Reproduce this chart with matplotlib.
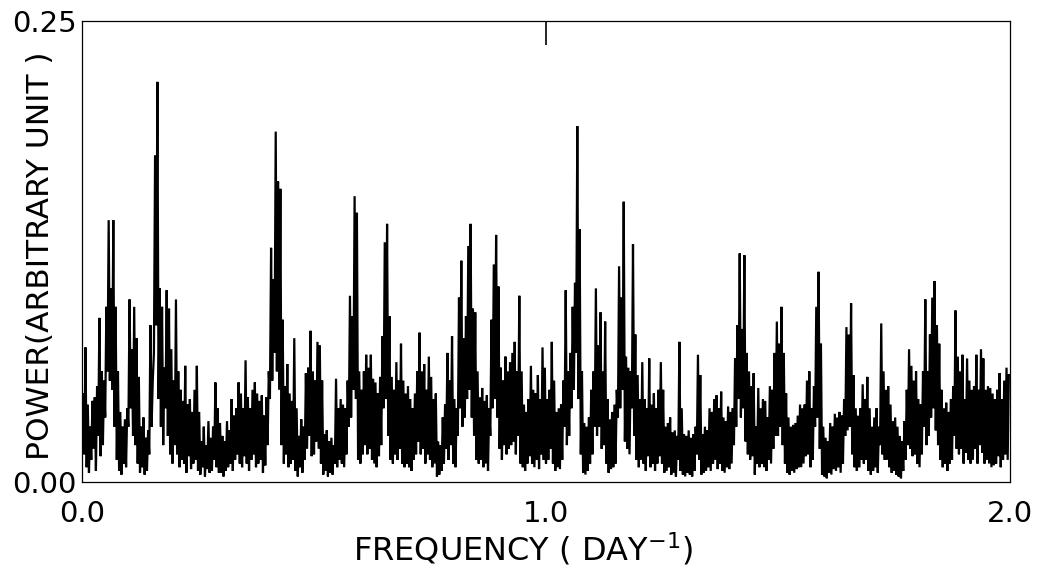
import numpy as np
import matplotlib
matplotlib.use("Agg")
import matplotlib.pyplot as plt

# Periodogram: local maxima and minima, in units of 0.001,
# sampled every 0.005 day^-1 (minima at the bin start, maxima at the bin middle).
peak_power_milli = [
    48, 73, 42, 30, 44, 46, 52, 89, 60, 55,
    95, 142, 105, 142, 95, 60, 38, 30, 34, 40,
    99, 72, 95, 78, 57, 30, 35, 24, 28, 85,
    55, 177, 217, 105, 95, 62, 104, 94, 72, 55,
    99, 60, 50, 44, 63, 42, 45, 38, 50, 63,
    38, 22, 30, 20, 33, 24, 30, 54, 40, 32,
    25, 22, 33, 28, 45, 36, 40, 54, 48, 40,
    66, 46, 40, 50, 54, 48, 44, 47, 36, 46,
    60, 127, 110, 190, 163, 159, 88, 52, 64, 48,
    44, 78, 40, 25, 34, 30, 59, 62, 82, 60,
    55, 76, 74, 55, 26, 28, 22, 24, 20, 56,
    40, 45, 42, 40, 55, 101, 90, 155, 146, 60,
    50, 60, 69, 62, 69, 56, 54, 48, 57, 79,
    130, 140, 90, 57, 50, 65, 55, 75, 55, 48,
    52, 45, 40, 48, 60, 81, 60, 64, 50, 68,
    57, 45, 48, 22, 20, 35, 42, 70, 55, 79,
    45, 40, 100, 120, 78, 90, 128, 140, 94, 92,
    60, 46, 51, 44, 47, 40, 88, 118, 134, 106,
    62, 55, 68, 60, 65, 70, 76, 60, 101, 60,
    42, 38, 45, 63, 50, 48, 58, 45, 73, 62,
    45, 50, 76, 55, 38, 40, 42, 55, 104, 60,
    70, 95, 108, 193, 137, 60, 32, 30, 35, 50,
    60, 105, 74, 92, 60, 87, 45, 34, 38, 42,
    50, 117, 100, 152, 68, 62, 60, 129, 80, 58,
    45, 65, 45, 40, 67, 42, 48, 40, 50, 65,
    50, 30, 32, 35, 27, 28, 25, 76, 40, 26,
    25, 28, 24, 26, 30, 69, 58, 26, 30, 28,
    40, 38, 45, 47, 40, 49, 35, 33, 41, 38,
    40, 67, 85, 124, 83, 123, 70, 60, 52, 59,
    30, 51, 40, 45, 44, 35, 52, 50, 70, 87,
    75, 95, 70, 48, 35, 30, 31, 32, 36, 42,
    40, 42, 55, 60, 40, 52, 95, 114, 75, 30,
    24, 22, 32, 30, 37, 35, 38, 36, 45, 84,
    80, 97, 58, 40, 36, 40, 53, 45, 57, 40,
    30, 35, 40, 30, 86, 60, 50, 52, 42, 33,
    35, 30, 25, 22, 33, 50, 72, 63, 55, 60,
    45, 42, 60, 99, 60, 80, 100, 109, 85, 75,
    50, 40, 43, 38, 45, 52, 93, 68, 60, 69,
    45, 67, 55, 50, 52, 69, 50, 72, 67, 50,
    52, 51, 48, 45, 50, 59, 45, 55, 62, 58,
]

trough_power_milli = [
    20, 15, 8, 5, 12, 18, 6, 25, 14, 20,
    35, 60, 55, 50, 30, 12, 6, 4, 10, 8,
    30, 40, 25, 20, 10, 5, 8, 4, 6, 15,
    30, 70, 85, 45, 30, 20, 40, 25, 15, 10,
    20, 15, 8, 12, 10, 5, 14, 7, 10, 12,
    6, 4, 8, 3, 7, 5, 6, 12, 8, 5,
    5, 3, 6, 8, 10, 6, 12, 15, 10, 8,
    14, 10, 6, 12, 15, 8, 10, 12, 5, 9,
    20, 45, 55, 70, 60, 50, 20, 10, 15, 8,
    10, 12, 6, 3, 8, 5, 12, 18, 25, 14,
    15, 22, 18, 10, 4, 6, 3, 5, 4, 10,
    8, 12, 10, 8, 15, 30, 35, 50, 45, 12,
    10, 15, 20, 15, 18, 12, 10, 8, 14, 20,
    40, 45, 25, 12, 10, 15, 12, 18, 10, 8,
    10, 8, 6, 12, 15, 22, 15, 18, 10, 15,
    12, 8, 10, 3, 4, 6, 10, 18, 12, 20,
    10, 8, 25, 40, 30, 35, 45, 50, 35, 25,
    12, 10, 12, 8, 10, 6, 25, 40, 45, 35,
    18, 12, 20, 15, 18, 20, 22, 15, 25, 10,
    8, 6, 10, 14, 10, 8, 12, 7, 15, 12,
    10, 12, 18, 10, 6, 8, 7, 12, 30, 20,
    25, 40, 50, 70, 45, 15, 5, 4, 6, 10,
    15, 30, 25, 30, 18, 20, 10, 5, 7, 8,
    10, 35, 40, 50, 22, 18, 15, 40, 25, 12,
    8, 12, 10, 6, 14, 8, 10, 6, 10, 14,
    10, 5, 6, 8, 4, 5, 3, 12, 6, 4,
    3, 5, 4, 3, 6, 15, 12, 4, 5, 6,
    8, 6, 10, 12, 7, 10, 6, 5, 8, 7,
    10, 20, 30, 45, 35, 40, 22, 15, 12, 14,
    4, 10, 8, 10, 8, 6, 12, 10, 18, 25,
    25, 30, 20, 10, 5, 4, 6, 5, 7, 8,
    8, 10, 14, 15, 8, 12, 30, 35, 18, 4,
    3, 2, 5, 4, 7, 6, 8, 5, 10, 25,
    28, 30, 15, 8, 6, 8, 12, 10, 12, 6,
    4, 6, 8, 5, 20, 15, 12, 12, 8, 5,
    6, 4, 3, 2, 6, 12, 20, 18, 14, 15,
    10, 8, 15, 30, 20, 25, 35, 40, 28, 20,
    12, 8, 10, 6, 10, 12, 25, 18, 15, 18,
    10, 16, 12, 10, 12, 18, 10, 20, 16, 10,
    12, 10, 8, 9, 10, 14, 8, 12, 15, 12,
]

freq_step = 0.005
x_tick_values = [0.0, 1.0, 2.0]
x_tick_labels = ["0.0", "1.0", "2.0"]
y_tick_values = [0.0, 0.25]
y_tick_labels = ["0.00", "0.25"]

peaks = np.array(peak_power_milli) / 1000.0
troughs = np.array(trough_power_milli) / 1000.0
n = len(peaks)
f_trough = np.arange(n) * freq_step
f_peak = f_trough + freq_step / 2

freq = np.empty(2 * n)
power = np.empty(2 * n)
freq[0::2] = f_trough
freq[1::2] = f_peak
power[0::2] = troughs
power[1::2] = peaks

fig = plt.figure(figsize=(10.41, 5.77), dpi=100)
ax = fig.add_axes([82 / 1041, 1 - 482 / 577, 928 / 1041, 461 / 577])

ax.plot(freq, power, color="black", linewidth=1.6, solid_joinstyle="miter")

ax.set_xlim(0.0, 2.0)
ax.set_ylim(0.0, 0.25)

ax.set_xticks(x_tick_values)
ax.set_xticklabels(x_tick_labels)
ax.set_yticks(y_tick_values)
ax.set_yticklabels(y_tick_labels)
ax.tick_params(axis="x", length=0, pad=13, labelsize=21)
ax.tick_params(axis="y", length=0, pad=4, labelsize=21)

# small inward tick at 1.0 on the top frame
ax.xaxis.remove_overlapping_locs = False
ax.set_xticks([1.0], minor=True)
ax.tick_params(axis="x", which="minor", top=True, bottom=False, direction="in",
               length=17, width=1.2, labeltop=False, labelbottom=False)

for s in ax.spines.values():
    s.set_linewidth(0.9)
    s.set_color("black")

ax.set_xlabel("FREQUENCY ( DAY$^{-1}$)", fontsize=23, va="center")
ax.xaxis.set_label_coords(0.475, -0.145)
ax.set_ylabel("POWER(ARBITRARY UNIT )", fontsize=22.5, va="center")
ax.yaxis.set_label_coords(-0.045, 0.49)

fig.savefig("out.png", dpi=100, facecolor="white")
